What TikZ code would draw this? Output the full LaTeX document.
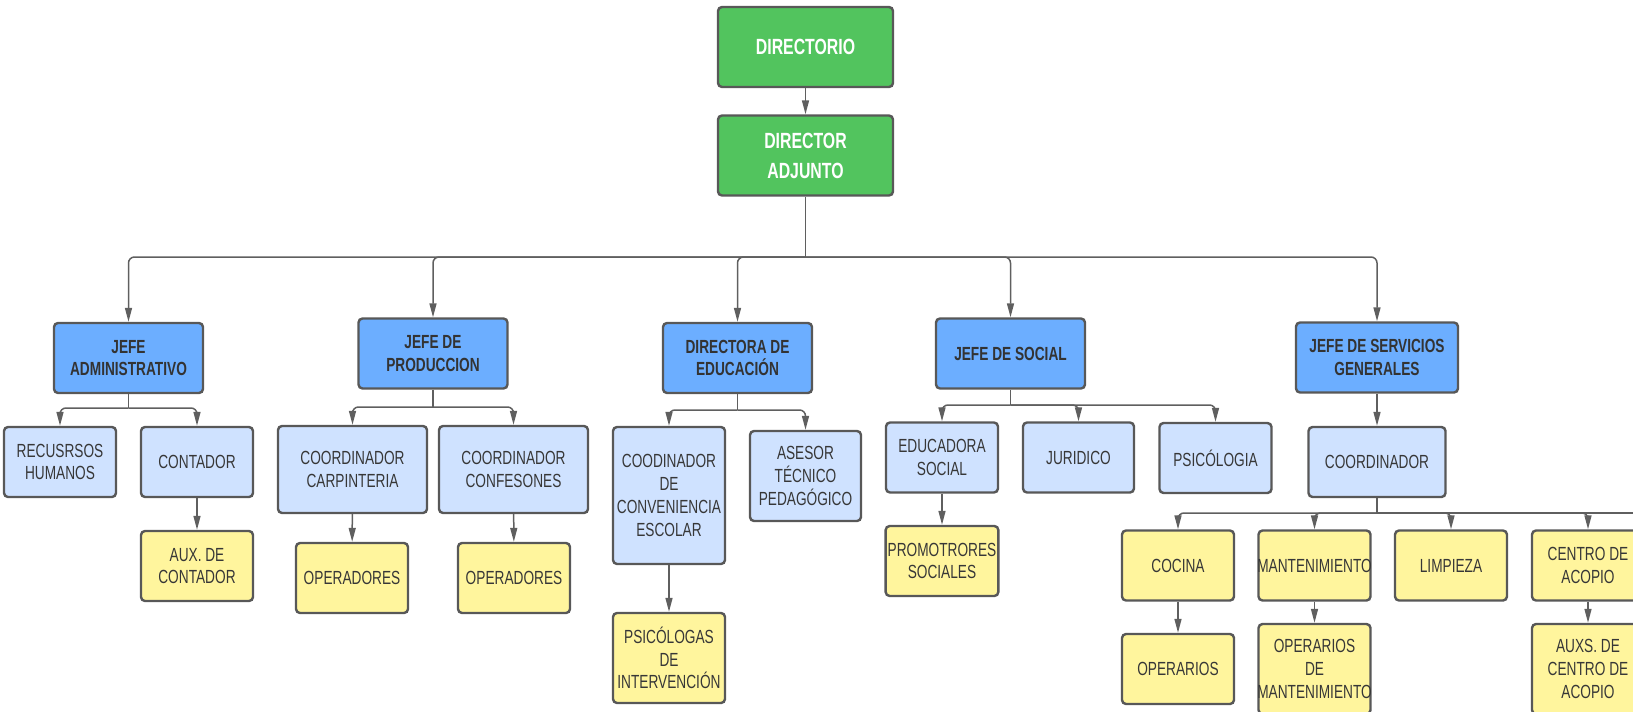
\documentclass[tikz,border=0pt]{standalone}
\usepackage{fontspec}
\setmainfont[FakeStretch=0.72]{Liberation Sans}
\usetikzlibrary{
  arrows.meta,
  chains,
  scopes,
  positioning
}
\definecolor{verdedir}{RGB}{82,196,94}
\definecolor{azuljefe}{RGB}{108,174,255}
\definecolor{azulclaro}{RGB}{207,226,255}
\definecolor{amarillo}{RGB}{255,245,157}
\definecolor{bordegris}{RGB}{88,88,88}
\definecolor{lineagris}{RGB}{95,95,95}
\definecolor{textogris}{RGB}{55,55,55}

\begin{document}
\begin{tikzpicture}[x=0.5pt,y=-0.5pt,
      caja/.style={
         rectangle,
         rounded corners=2pt,
         line width=1.2pt,
         draw=bordegris,
         inner xsep=1pt,
         inner ysep=2pt,
         align=center,
         text=textogris,
         font=\fontsize{9.5}{11.4}\selectfont
      },
      directivo/.style={
         caja,
         fill=verdedir,
         text=white,
         font=\bfseries\fontsize{11}{15}\selectfont,
         minimum width=87.5pt,
         minimum height=40pt
      },
      jefatura/.style={
         caja,
         fill=azuljefe,
         text=black!80,
         font=\bfseries\fontsize{9.5}{11.4}\selectfont,
         minimum width=74.5pt,
         minimum height=35pt
      },
      puesto/.style={
         caja,
         fill=azulclaro,
         minimum width=56pt,
         minimum height=35pt
      },
      auxiliar/.style={
         caja,
         fill=amarillo,
         minimum width=56pt,
         minimum height=35pt
      },
      point/.style={coordinate},
      >={Triangle[width=3.5pt,length=7pt]},line width=0.75pt,draw=lineagris,
      tip/.style={->},every join/.style={rounded corners=3pt},
      hv path/.style={to path={-| (\tikztotarget)}}
    ]
    \useasboundingbox (0,0) rectangle (1633,712);
    \clip (0,0) rectangle (1633,712);

    % direccion
    \node (dir) [directivo] at (805.5,47) {DIRECTORIO};
    \node (da) [directivo] at (805.5,155.5) {DIRECTOR\\ADJUNTO};

    % jefaturas
    \node (ja) [jefatura] at (128.5,358) {JEFE\\ADMINISTRATIVO};
    \node (jp) [jefatura] at (433,353.5) {JEFE DE\\PRODUCCION};
    \node (de) [jefatura] at (737.5,358) {DIRECTORA DE\\EDUCACIÓN};
    \node (js) [jefatura] at (1010.5,353.5) {JEFE DE SOCIAL};
    \node (jsg) [jefatura, minimum width=81pt] at (1377,357.5) {JEFE DE SERVICIOS\\GENERALES};

    % puestos
    \node (rh) [puesto] at (60,462) {RECUSRSOS\\HUMANOS};
    \node (con) [puesto] at (197,462) {CONTADOR};
    \node (cc) [puesto, minimum width=74.5pt, minimum height=43.5pt] at (352.5,469.5) {COORDINADOR\\CARPINTERIA};
    \node (cf) [puesto, minimum width=74.5pt, minimum height=43.5pt] at (513.5,469.5) {COORDINADOR\\CONFESONES};
    \node (cce) [puesto, minimum height=68.5pt] at (669,495.5) {COODINADOR\\DE\\CONVENIENCIA\\ESCOLAR};
    \node (atp) [puesto, minimum width=55.5pt, minimum height=45pt] at (805.5,476) {ASESOR\\TÉCNICO\\PEDAGÓGICO};
    \node (es) [puesto] at (942,457.5) {EDUCADORA\\SOCIAL};
    \node (jur) [puesto, minimum width=55.5pt] at (1078.5,457.5) {JURIDICO};
    \node (psi) [puesto] at (1215.5,458) {PSICÓLOGIA};
    \node (coo) [puesto, minimum width=68.5pt] at (1377,462) {COORDINADOR};

    % auxiliares
    \node (auxc) [auxiliar] at (197,566) {AUX. DE\\CONTADOR};
    \node (op1) [auxiliar] at (352,578) {OPERADORES};
    \node (op2) [auxiliar] at (514,578) {OPERADORES};
    \node (pi) [auxiliar, minimum height=45pt] at (669,658) {PSICÓLOGAS\\DE\\INTERVENCIÓN};
    \node (ps) [auxiliar] at (942,561) {PROMOTRORES\\SOCIALES};
    \node (coc) [auxiliar] at (1178,565.5) {COCINA};
    \node (man) [auxiliar] at (1314.5,565.5) {\makebox[50pt]{MANTENIMIENTO}};
    \node (lim) [auxiliar] at (1451,565.5) {LIMPIEZA};
    \node (cda) [auxiliar] at (1588,565.5) {CENTRO DE\\ACOPIO};
    \node (opr) [auxiliar] at (1178,669) {OPERARIOS};
    \node (opm) [auxiliar, minimum height=45pt] at (1314.5,669) {OPERARIOS\\DE\\\makebox[50pt]{MANTENIMIENTO}};
    \node (auxa) [auxiliar, minimum height=45pt] at (1588,669) {AUXS. DE\\CENTRO DE\\ACOPIO};

    % buses
    \coordinate (b1) at (805.5,257);
    \coordinate (b2) at (128.5,408);
    \coordinate (b3) at (433,407);
    \coordinate (b4) at (737.5,410);
    \coordinate (b5) at (1010.5,405);
    \coordinate (b6) at (1377,513);
    \coordinate (b6e) at (1640,513);

  { [start chain]
       \chainin (dir);
       \chainin (da)    [join=by tip];
       \chainin (b1)    [join];
  }
  { [start chain]
       \chainin (b1);
       \chainin (ja)    [join=by {hv path,tip}];
  }
  { [start chain]
       \chainin (b1);
       \chainin (jp)    [join=by {hv path,tip}];
  }
  { [start chain]
       \chainin (b1);
       \chainin (de)    [join=by {hv path,tip}];
  }
  { [start chain]
       \chainin (b1);
       \chainin (js)    [join=by {hv path,tip}];
  }
  { [start chain]
       \chainin (b1);
       \chainin (jsg)    [join=by {hv path,tip}];
  }
  { [start chain]
       \chainin (ja);
       \chainin (b2)    [join];
       \chainin (rh)    [join=by {hv path,tip}];
  }
  { [start chain]
       \chainin (b2);
       \chainin (con)    [join=by {hv path,tip}];
       \chainin (auxc)    [join=by tip];
  }
  { [start chain]
       \chainin (jp);
       \chainin (b3)    [join];
       \chainin (cc)    [join=by {hv path,tip}];
       \chainin (op1)    [join=by tip];
  }
  { [start chain]
       \chainin (b3);
       \chainin (cf)    [join=by {hv path,tip}];
       \chainin (op2)    [join=by tip];
  }
  { [start chain]
       \chainin (de);
       \chainin (b4)    [join];
       \chainin (cce)    [join=by {hv path,tip}];
       \chainin (pi)    [join=by tip];
  }
  { [start chain]
       \chainin (b4);
       \chainin (atp)    [join=by {hv path,tip}];
  }
  { [start chain]
       \chainin (js);
       \chainin (b5)    [join];
       \chainin (es)    [join=by {hv path,tip}];
       \chainin (ps)    [join=by tip];
  }
  { [start chain]
       \chainin (b5);
       \chainin (jur)    [join=by {hv path,tip}];
  }
  { [start chain]
       \chainin (b5);
       \chainin (psi)    [join=by {hv path,tip}];
  }
  { [start chain]
       \chainin (jsg);
       \chainin (coo)    [join=by tip];
       \chainin (b6)    [join];
       \chainin (coc)    [join=by {hv path,tip}];
       \chainin (opr)    [join=by tip];
  }
  { [start chain]
       \chainin (b6);
       \chainin (man)    [join=by {hv path,tip}];
       \chainin (opm)    [join=by tip];
  }
  { [start chain]
       \chainin (b6);
       \chainin (lim)    [join=by {hv path,tip}];
  }
  { [start chain]
       \chainin (b6);
       \chainin (cda)    [join=by {hv path,tip}];
       \chainin (auxa)    [join=by tip];
  }
  { [start chain]
       \chainin (b6);
       \chainin (b6e)    [join];
  }
\end{tikzpicture}
\end{document}
